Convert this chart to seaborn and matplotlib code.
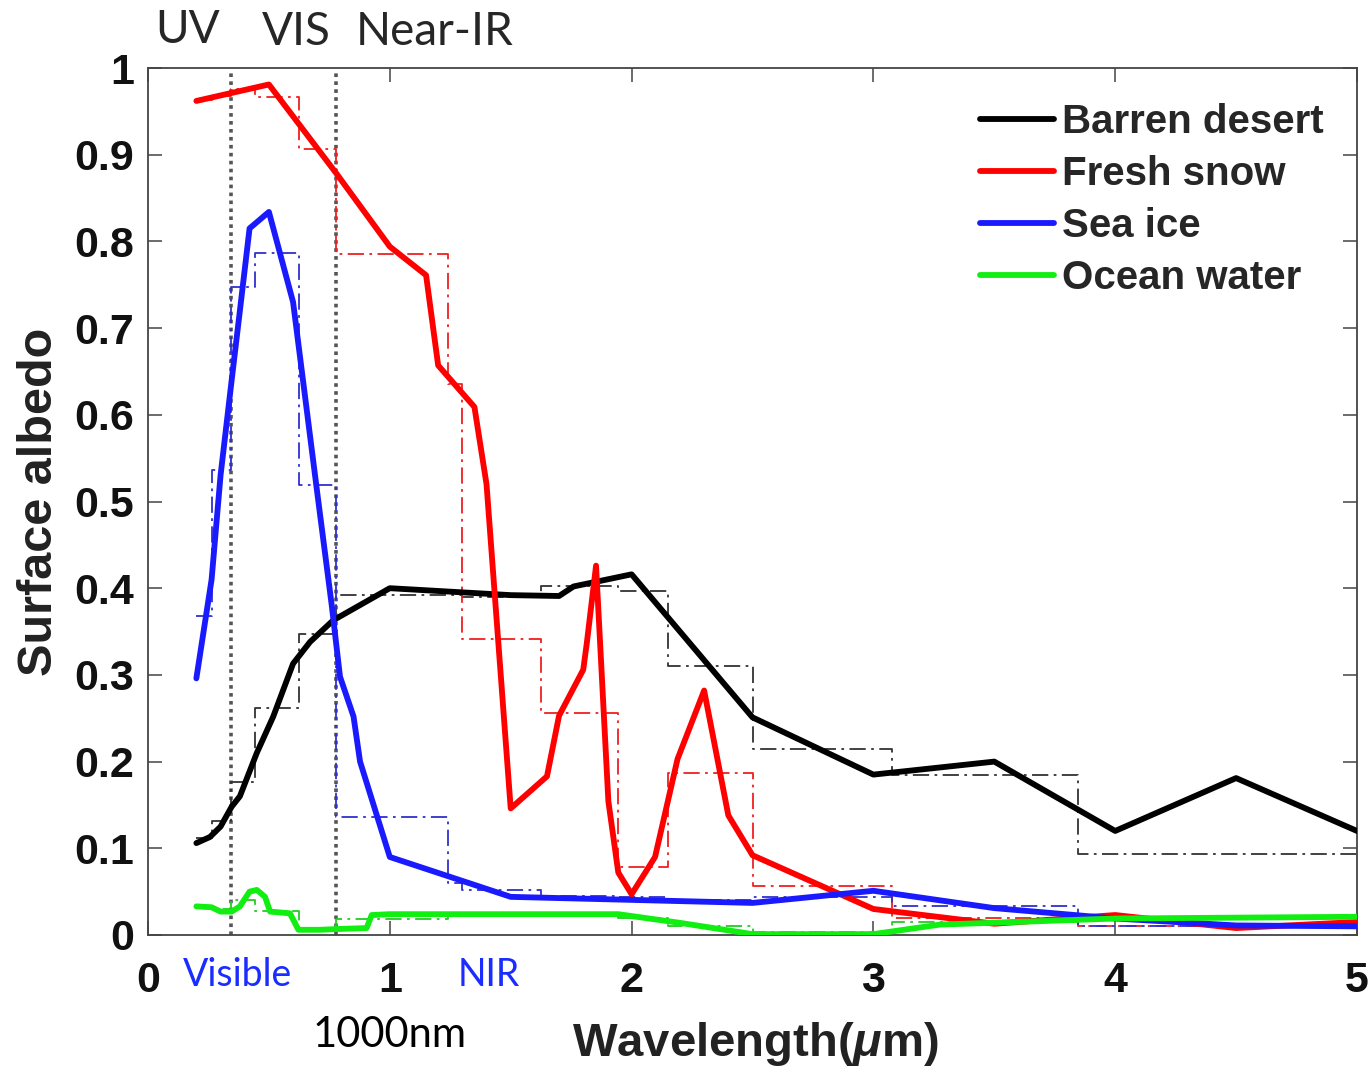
import numpy as np
import pandas as pd
import matplotlib
matplotlib.use("Agg")
import matplotlib.pyplot as plt
import seaborn as sns
from matplotlib.lines import Line2D

# ---------------- data ----------------
desert_x = [0.20, 0.256, 0.30, 0.346, 0.38, 0.45, 0.518, 0.60, 0.67, 0.766, 1.0, 1.5, 1.70, 1.76, 2.0, 2.5, 3.0, 3.5, 4.0, 4.5, 5.0]
desert_y = [0.106, 0.113, 0.125, 0.148, 0.160, 0.210, 0.252, 0.313, 0.338, 0.363, 0.400, 0.392, 0.391, 0.402, 0.416, 0.251, 0.185, 0.200, 0.120, 0.181, 0.120]

snow_x = [0.20, 0.50, 0.78, 1.0, 1.15, 1.20, 1.35, 1.40, 1.50, 1.65, 1.70, 1.80, 1.814, 1.853, 1.904, 1.945, 2.0, 2.097, 2.19, 2.30, 2.40, 2.50, 3.0, 3.5, 4.0, 4.5, 5.0]
snow_y = [0.962, 0.981, 0.878, 0.794, 0.761, 0.657, 0.609, 0.520, 0.146, 0.183, 0.253, 0.306, 0.335, 0.426, 0.154, 0.072, 0.047, 0.090, 0.203, 0.282, 0.138, 0.092, 0.030, 0.013, 0.023, 0.008, 0.015]

ice_x = [0.20, 0.263, 0.30, 0.346, 0.38, 0.42, 0.50, 0.60, 0.65, 0.70, 0.76, 0.794, 0.85, 0.877, 1.0, 1.5, 2.5, 3.0, 3.5, 4.0, 4.5, 5.0]
ice_y = [0.296, 0.410, 0.530, 0.640, 0.720, 0.815, 0.834, 0.730, 0.620, 0.510, 0.380, 0.298, 0.252, 0.200, 0.090, 0.044, 0.037, 0.051, 0.031, 0.019, 0.011, 0.010]

ocean_x = [0.20, 0.263, 0.30, 0.346, 0.38, 0.42, 0.45, 0.484, 0.505, 0.587, 0.622, 0.71, 0.795, 0.904, 0.925, 1.0, 1.5, 1.945, 2.2, 2.5, 3.0, 3.275, 4.0, 5.0]
ocean_y = [0.033, 0.032, 0.027, 0.027, 0.033, 0.050, 0.052, 0.044, 0.027, 0.025, 0.006, 0.006, 0.007, 0.008, 0.023, 0.024, 0.024, 0.024, 0.014, 0.001, 0.001, 0.012, 0.019, 0.021]

# band edges (um) and band-mean albedos (dash-dot steps)
band_edges = [0.2, 0.263, 0.345, 0.442, 0.625, 0.778, 1.242, 1.299, 1.626, 1.942, 2.151, 2.5, 3.077, 3.846, 5.0]
desert_band = [0.112, 0.132, 0.176, 0.262, 0.347, 0.392, 0.392, 0.390, 0.402, 0.397, 0.310, 0.215, 0.185, 0.094]
snow_band = [0.963, 0.968, 0.976, 0.966, 0.906, 0.786, 0.636, 0.341, 0.256, 0.078, 0.187, 0.057, 0.020, 0.010]
ice_band = [0.368, 0.536, 0.747, 0.787, 0.519, 0.136, 0.060, 0.052, 0.045, 0.044, 0.040, 0.044, 0.033, 0.010]
ocean_band = [0.033, 0.030, 0.040, 0.028, 0.008, 0.019, 0.024, 0.024, 0.023, 0.020, 0.010, 0.003, 0.015, 0.020]

series_names = ["Barren desert", "Fresh snow", "Sea ice", "Ocean water"]
divider_x = [0.345, 0.778]
x_ticks = [0, 1, 2, 3, 4, 5]
y_ticks = [0, 0.1, 0.2, 0.3, 0.4, 0.5, 0.6, 0.7, 0.8, 0.9, 1.0]
y_tick_labels = ["0", "0.1", "0.2", "0.3", "0.4", "0.5", "0.6", "0.7", "0.8", "0.9", "1"]

# ---------------- style ----------------
sns.set_style("ticks")
plt.rcParams["font.family"] = ["Liberation Sans", "DejaVu Sans"]
plt.rcParams["mathtext.fontset"] = "custom"
plt.rcParams["mathtext.rm"] = "Liberation Sans:bold"
plt.rcParams["mathtext.it"] = "Liberation Sans:italic:bold"
plt.rcParams["mathtext.bf"] = "Liberation Sans:bold"

solid_colors = {"Barren desert": "#000000", "Fresh snow": "#ff0000",
                "Sea ice": "#1a1aff", "Ocean water": "#11ee11"}
step_colors = {"Barren desert": "#333333", "Fresh snow": "#ee2020",
               "Sea ice": "#3030cc", "Ocean water": "#22cc22"}

fig = plt.figure(figsize=(13.7, 10.71), dpi=100)
ax = fig.add_axes([148/1370, 1-935/1071, (1357-148)/1370, (935-68)/1071])

solid = pd.concat([
    pd.DataFrame({"x": desert_x, "y": desert_y, "s": series_names[0]}),
    pd.DataFrame({"x": snow_x, "y": snow_y, "s": series_names[1]}),
    pd.DataFrame({"x": ice_x, "y": ice_y, "s": series_names[2]}),
    pd.DataFrame({"x": ocean_x, "y": ocean_y, "s": series_names[3]}),
], ignore_index=True)

bands = {series_names[0]: desert_band, series_names[1]: snow_band,
         series_names[2]: ice_band, series_names[3]: ocean_band}

# dash-dot band steps
for name in series_names:
    vals = bands[name]
    df = pd.DataFrame({"x": band_edges, "y": list(vals) + [vals[-1]]})
    sns.lineplot(data=df, x="x", y="y", ax=ax, color=step_colors[name],
                 estimator=None, sort=False, drawstyle="steps-post",
                 linewidth=1.3, dashes=False, linestyle=(0, (9, 3, 1.5, 3)),
                 zorder=2, legend=False)

# dotted dividers
for xv in divider_x:
    ax.axvline(xv, ymin=0, ymax=0.995, color="#555555", linestyle=(0, (1, 1.2)),
               linewidth=2.6, zorder=1)

# solid spectra
sns.lineplot(data=solid, x="x", y="y", hue="s", hue_order=series_names,
             palette=solid_colors, estimator=None, sort=False, ax=ax,
             linewidth=4.2, zorder=3, legend=False)

ax.set_xlim(0, 5)
ax.set_ylim(0, 1)
ax.set_xticks(x_ticks)
ax.set_xticklabels([str(t) for t in x_ticks])
ax.set_yticks(y_ticks)
ax.set_yticklabels(y_tick_labels)

for sp in ax.spines.values():
    sp.set_visible(True)
    sp.set_color("#444444")
    sp.set_linewidth(1.3)

ax.tick_params(axis="both", direction="in", length=10, width=1.1, color="#444444",
               top=True, right=True, labelsize=31)
ax.tick_params(axis="x", pad=19)
ax.tick_params(axis="y", pad=10)
for lab in ax.get_xticklabels() + ax.get_yticklabels():
    lab.set_fontweight("bold")
    lab.set_color("#111111")

ax.set_xlabel(r"Wavelength($\mu$m)", fontsize=34, fontweight="bold", color="#222222")
ax.set_ylabel("Surface albedo", fontsize=35, fontweight="bold", color="#222222")
ax.xaxis.set_label_coords(0.502, -0.098)
ax.yaxis.set_label_coords(-0.071, 0.5)

# legend
handles = [Line2D([0], [0], color=solid_colors[n], lw=4.2) for n in series_names]
leg = ax.legend(handles, series_names, loc="upper left", bbox_to_anchor=(0.688, 0.960),
                frameon=False, borderpad=0, borderaxespad=0, handlelength=1.85,
                handletextpad=0.2, labelspacing=0.35,
                prop={"family": "Liberation Sans", "weight": "bold", "size": 29})

# annotations
anno_font = ["Lato", "DejaVu Sans"]
fig.text(155/1370, 1-30/1071, "UV", fontsize=33, family=anno_font, ha="left", va="center")
fig.text(262/1370, 1-32/1071, "VIS", fontsize=33, family=anno_font, ha="left", va="center")
fig.text(356/1370, 1-32/1071, "Near-IR", fontsize=33, family=anno_font, ha="left", va="center")
fig.text(183/1370, 1-975/1071, "Visible", fontsize=27, family=anno_font, color="#1a2cff",
         ha="left", va="center")
fig.text(458/1370, 1-975/1071, "NIR", fontsize=27, family=anno_font, color="#1a2cff",
         ha="left", va="center")
fig.text(313/1370, 1-1035/1071, "1000nm", fontsize=30, family=anno_font, color="black",
         ha="left", va="center")

fig.savefig("out.png", dpi=100)
